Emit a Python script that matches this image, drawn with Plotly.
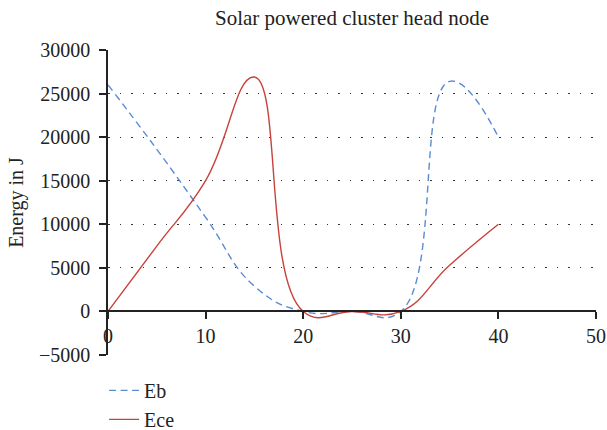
import plotly.graph_objects as go

x_vals = [0, 5, 10, 15, 20, 25, 30, 35, 40]
eb_vals = [26000, 18600, 10800, 2900, 0, 0, 0, 26400, 20000]
ece_vals = [0, 7500, 15000, 26900, 0, 0, 0, 5300, 10000]

x_ticks = [0, 10, 20, 30, 40, 50]
y_ticks = [-5000, 0, 5000, 10000, 15000, 20000, 25000, 30000]

font_family = "Liberation Serif"
txt = "#222"

fig = go.Figure()
fig.add_trace(go.Scatter(
    x=x_vals, y=eb_vals, name="Eb", mode="lines",
    line=dict(color="#5B8BD0", width=1.4, dash="7px,4.5px", shape="spline", smoothing=1.3),
))
fig.add_trace(go.Scatter(
    x=x_vals, y=ece_vals, name="Ece", mode="lines",
    line=dict(color="#C8413B", width=1.4, shape="spline", smoothing=1.3),
))

fig.update_layout(
    width=607, height=430,
    margin=dict(l=108, r=11, t=50, b=75, autoexpand=False),
    paper_bgcolor="white", plot_bgcolor="white",
    font=dict(family=font_family, size=20, color=txt),
    title=dict(text="Solar powered cluster head node", x=0.58, xanchor="center",
               y=0.958, yanchor="middle", font=dict(family=font_family, size=21, color=txt)),
    showlegend=True,
    legend=dict(x=-0.008, xanchor="left", y=-0.052, yanchor="top", orientation="v",
                font=dict(family=font_family, size=20, color=txt),
                bgcolor="rgba(0,0,0,0)", itemwidth=30),
    xaxis=dict(range=[0, 50], tickvals=x_ticks, ticktext=[str(v) for v in x_ticks],
               showgrid=False, zeroline=False, showline=True, linecolor=txt, linewidth=1.5,
               ticks="outside", ticklen=7, tickcolor=txt, tickwidth=1.5,
               anchor="free", position=5000 / 35000,
               tickfont=dict(family=font_family, size=20, color=txt)),
    yaxis=dict(range=[-5000, 30000], tickvals=y_ticks, ticktext=[str(v).replace("-", "−") for v in y_ticks],
               showgrid=True, gridcolor="#333", griddash="1.5px,10px", gridwidth=1.3,
               zeroline=False, showline=True, linecolor=txt, linewidth=1.5,
               ticks="outside", ticklen=7, tickcolor=txt, tickwidth=1.5, ticklabelstandoff=5,
               title=dict(text="Energy in J", font=dict(family=font_family, size=20, color=txt), standoff=10),
               tickfont=dict(family=font_family, size=20, color=txt)),
)

fig.write_html("out.html", config={"displayModeBar": False},
               post_script="document.body.style.margin='0';")
